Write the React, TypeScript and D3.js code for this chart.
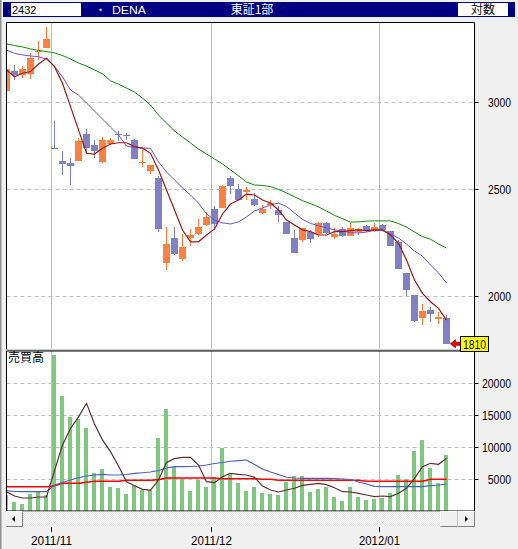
import React from 'react';
import * as d3 from 'd3';

// trading days shown (2011/10/24 .. 2012/01/17)
const dates = [
  '2011/10/24', '2011/10/25', '2011/10/26', '2011/10/27', '2011/10/28', '2011/10/31',
  '2011/11/01', '2011/11/02', '2011/11/04', '2011/11/07', '2011/11/08', '2011/11/09', '2011/11/10',
  '2011/11/11', '2011/11/14', '2011/11/15', '2011/11/16', '2011/11/17', '2011/11/18', '2011/11/21',
  '2011/11/22', '2011/11/24', '2011/11/25', '2011/11/28', '2011/11/29', '2011/11/30',
  '2011/12/01', '2011/12/02', '2011/12/05', '2011/12/06', '2011/12/07', '2011/12/08', '2011/12/09',
  '2011/12/12', '2011/12/13', '2011/12/14', '2011/12/15', '2011/12/16', '2011/12/19', '2011/12/20',
  '2011/12/21', '2011/12/22', '2011/12/26', '2011/12/27', '2011/12/28', '2011/12/29', '2011/12/30',
  '2012/01/04', '2012/01/05', '2012/01/06', '2012/01/10', '2012/01/11', '2012/01/12', '2012/01/13',
  '2012/01/16', '2012/01/17',
];

const open = [
  3072, 3201, 3177, 3183, 3330, 3358, 2726, 2652, 2641, 2652, 2804, 2744, 2646, 2749, 2806, 2800,
  2772, 2640, 2597, 2560, 2145, 2258, 2163, 2258, 2277, 2321, 2397, 2403, 2560, 2500, 2484, 2449,
  2380, 2418, 2392, 2335, 2258, 2250, 2286, 2276, 2330, 2263, 2300, 2267, 2286, 2316, 2291, 2321,
  2291, 2241, 2097, 2004, 1912, 1944, 1908, 1912,
];
const high = [
  3212, 3241, 3233, 3321, 3408, 3511, 2883, 2708, 2671, 2780, 2834, 2772, 2788, 2780, 2821, 2812,
  2778, 2714, 2630, 2569, 2310, 2310, 2276, 2300, 2349, 2383, 2412, 2524, 2570, 2530, 2510, 2481,
  2418, 2444, 2412, 2335, 2296, 2305, 2296, 2335, 2335, 2305, 2310, 2330, 2305, 2321, 2330, 2326,
  2291, 2250, 2097, 2004, 1968, 1956, 1936, 1924,
];
const low = [
  3072, 3141, 3156, 3148, 3274, 3358, 2722, 2574, 2521, 2652, 2704, 2669, 2639, 2744, 2763, 2772,
  2664, 2621, 2580, 2286, 2113, 2179, 2154, 2219, 2272, 2316, 2296, 2403, 2476, 2444, 2444, 2412,
  2375, 2397, 2335, 2276, 2188, 2241, 2232, 2263, 2277, 2254, 2263, 2267, 2272, 2286, 2286, 2291,
  2219, 2115, 2000, 1894, 1883, 1894, 1887, 1810,
];
const close = [
  3212, 3174, 3214, 3288, 3338, 3421, 2722, 2635, 2625, 2763, 2727, 2708, 2772, 2772, 2800, 2794,
  2664, 2646, 2630, 2300, 2228, 2185, 2214, 2272, 2310, 2359, 2326, 2518, 2517, 2444, 2495, 2418,
  2397, 2429, 2369, 2276, 2188, 2305, 2254, 2330, 2281, 2277, 2267, 2305, 2300, 2291, 2310, 2296,
  2219, 2115, 2025, 1898, 1940, 1928, 1916, 1810,
];

// price moving averages as drawn
const maShort = [
  3208, 3163, 3186, 3197, 3248, 3287, 3230, 3120, 2971, 2830, 2695, 2691, 2724, 2748, 2755, 2755,
  2733, 2724, 2695, 2603, 2496, 2394, 2296, 2240, 2240, 2272, 2301, 2374, 2424, 2444, 2475, 2470,
  2444, 2429, 2394, 2344, 2320, 2296, 2288, 2272, 2272, 2288, 2288, 2293, 2296, 2293, 2296, 2296,
  2272, 2233, 2156, 2068, 2011, 1976, 1949, 1902,
];
const maMid = [
  3344, 3321, 3310, 3303, 3298, 3281, 3233, 3161, 3076, 3044, 2994, 2944, 2895, 2847, 2800, 2736,
  2727, 2725, 2723, 2647, 2592, 2549, 2507, 2470, 2429, 2374, 2344, 2330, 2325, 2335, 2359, 2389,
  2404, 2419, 2429, 2411, 2379, 2347, 2328, 2316, 2306, 2296, 2291, 2283, 2282, 2286, 2294, 2294,
  2277, 2258, 2229, 2197, 2174, 2134, 2099, 2055,
];
const maLong = [
  3387, 3376, 3366, 3352, 3341, 3334, 3324, 3306, 3282, 3255, 3234, 3208, 3182, 3136, 3114, 3088,
  3063, 3025, 2981, 2919, 2871, 2824, 2788, 2754, 2719, 2691, 2663, 2636, 2603, 2571, 2538, 2522,
  2520, 2514, 2499, 2481, 2461, 2441, 2426, 2409, 2389, 2367, 2351, 2334, 2335, 2339, 2340, 2340,
  2340, 2327, 2310, 2286, 2264, 2252, 2230, 2211,
];

const volume = [
  2500, 1400, 1100, 2650, 3000, 2500, 24400, 18000, 14700, 14400, 13000, 5900, 6560, 3800, 3600, 2650,
  4100, 3280, 3280, 11400, 15900, 6900, 5000, 3100, 4850, 3750, 5300, 9840, 5900, 4375, 3100, 3750,
  2800, 2650, 2500, 4530, 5470, 5470, 2970, 3440, 3750, 2190, 1560, 3750, 2190, 1720, 1875, 2030,
  2800, 5625, 5000, 9375, 11090, 6720, 4375, 8750,
];
const volMaShort = [
  3016, 2340, 2030, 2030, 2190, 2190, 6300, 10300, 12900, 14700, 16830, 13600, 11100, 9270, 7030, 4580,
  3950, 3390, 3280, 4840, 7600, 8180, 8390, 8390, 7190, 4580, 4430, 5360, 5890, 5730, 5625, 5260,
  3900, 3280, 2970, 3280, 3550, 4010, 4170, 4330, 4110, 3640, 3020, 2970, 2760, 2500, 2240, 2340,
  2240, 2760, 3550, 5100, 6920, 7450, 7300, 8230,
];
const volMaMid = [
  3170, 3050, 3016, 3016, 3016, 3016, 4060, 4450, 4840, 5200, 5470, 5625, 5730, 5625, 5625, 5700,
  5890, 5980, 6090, 6330, 6720, 6920, 6920, 6950, 7030, 7190, 7420, 7580, 7770, 7860, 7970, 7270,
  6560, 6090, 5700, 5270, 5160, 5110, 5110, 5110, 5110, 5080, 5000, 4920, 4530, 4220, 3860, 3800,
  3800, 3800, 3800, 3800, 3800, 3980, 4060, 4220,
];
const volMaLong = [
  3800, 3800, 3800, 3800, 3800, 3800, 3950, 4330, 4330, 4330, 4480, 4640, 4640, 4640, 4640, 4800,
  4800, 4800, 4800, 4900, 5160, 5160, 5160, 5160, 5160, 5160, 5160, 5050, 5050, 5050, 5050, 5050,
  4950, 4950, 4800, 4800, 4800, 4800, 4800, 4800, 4800, 4800, 4800, 4800, 4800, 4640, 4640, 4640,
  4640, 4640, 4640, 4640, 4640, 4950, 4950, 4950,
];

const priceTicks = [2000, 2500, 3000];
const volTicks = [5000, 10000, 15000, 20000];

const UP = '#FF8040';
const DOWN = '#8080C4';
const GRID = '#C0C0C0';
const NUM_FONT = '"Liberation Sans", Arial, sans-serif';
const JP_FONT = '"Noto Sans CJK JP", sans-serif';

const App: React.FC = () => {
  const plotL = 6.5, plotR = 474.5;
  const priceTop = 22.5, priceBottom = 349.5;
  const volTop = 351, volBottom = 511;

  const x = d3.scaleLinear().domain([0, dates.length - 1]).range([6.5, 446.5]);
  const yP = d3.scaleLog().domain([2000, 3000]).range([296, 102]);
  const yV = d3.scaleLinear().domain([0, 20000]).range([511, 383]);

  const priceLine = (arr: number[]) =>
    d3.line<number>().x((_, i) => x(i)).y(d => yP(d))(arr) || '';
  const volLine = (arr: number[]) =>
    d3.line<number>().x((_, i) => x(i)).y(d => yV(d))(arr) || '';

  // month boundaries
  const months: { x: number; label: string }[] = [];
  dates.forEach((d, i) => {
    if (i > 0 && d.slice(0, 7) !== dates[i - 1].slice(0, 7)) {
      months.push({ x: Math.round((x(i - 1) + x(i)) / 2) + 0.5, label: d.slice(0, 7) });
    }
  });

  const last = close[close.length - 1];
  const lastY = yP(last);

  return (
    <svg width={518} height={549} style={{ position: 'absolute', left: 0, top: 0 }}>
      <defs>
        <clipPath id="pclip"><rect x={plotL} y={priceTop} width={plotR - plotL} height={priceBottom - priceTop} /></clipPath>
        <clipPath id="vclip"><rect x={plotL} y={volTop} width={plotR - plotL} height={volBottom - volTop} /></clipPath>
        <pattern id="dots" width={2} height={2} patternUnits="userSpaceOnUse">
          <rect width={2} height={2} fill="#FFFFFF" />
          <rect width={1} height={1} fill="#E4E4E4" />
          <rect x={1} y={1} width={1} height={1} fill="#E4E4E4" />
        </pattern>
      </defs>
      <rect width={518} height={549} fill="#F0F0F0" />
      <rect x={0} y={0} width={1.5} height={549} fill="#909090" />

      {/* header */}
      <rect x={3} y={2} width={512} height={15} fill="#000080" />
      <rect x={11} y={3} width={70} height={13} fill="#FFFFFF" />
      <rect x={458} y={3} width={50} height={13} fill="#FFFFFF" />
      <text x={12} y={14} fontFamily={NUM_FONT} fontSize={11} fill="#000">2432</text>
      <text x={95} y={14} fontFamily={JP_FONT} fontSize={11} fill="#FFF">・</text>
      <text x={112} y={14} fontFamily={NUM_FONT} fontSize={11} fill="#FFF" textLength={34} lengthAdjust="spacingAndGlyphs">DENA</text>
      <text x={252} y={14} fontFamily={JP_FONT} fontSize={12} fill="#FFF" textAnchor="middle">東証1部</text>
      <text x={483} y={14} fontFamily={JP_FONT} fontSize={12} fill="#000" textAnchor="middle">対数</text>

      {/* price panel */}
      <rect x={plotL} y={priceTop} width={plotR - plotL} height={priceBottom - priceTop} fill="#FFFFFF" />
      <rect x={plotL} y={volTop} width={plotR - plotL} height={volBottom - volTop} fill="#FFFFFF" />

      {priceTicks.map(t => (
        <line key={t} x1={plotL} x2={plotR} y1={Math.round(yP(t)) + 0.5} y2={Math.round(yP(t)) + 0.5}
          stroke={GRID} strokeDasharray="4,3" />
      ))}
      {volTicks.map(t => (
        <line key={t} x1={plotL} x2={plotR} y1={Math.round(yV(t)) + 0.5} y2={Math.round(yV(t)) + 0.5}
          stroke={GRID} strokeDasharray="4,3" />
      ))}
      {months.map(m => (
        <g key={m.label}>
          <line x1={m.x} x2={m.x} y1={priceTop} y2={priceBottom - 1} stroke={GRID} />
          <line x1={m.x} x2={m.x} y1={volTop} y2={volBottom} stroke={GRID} />
        </g>
      ))}

      <g clipPath="url(#pclip)">
        {dates.map((d, i) => {
          const c = x(i);
          const up = close[i] >= open[i];
          const col = up ? UP : DOWN;
          const top = yP(Math.max(open[i], close[i]));
          const bot = yP(Math.min(open[i], close[i]));
          return (
            <g key={d} shapeRendering="crispEdges">
              <rect x={c - 0.5} y={yP(high[i])} width={1} height={Math.max(1, yP(low[i]) - yP(high[i]))} fill={col} />
              <rect x={c - 3.5} y={top} width={7} height={Math.max(1, bot - top)} fill={col} />
            </g>
          );
        })}
        <path d={priceLine(maLong)} fill="none" stroke="#108A10" strokeWidth={1} />
        <path d={priceLine(maMid)} fill="none" stroke="#6A50D8" strokeWidth={1} />
        <path d={priceLine(maShort)} fill="none" stroke="#A01818" strokeWidth={1.2} />
      </g>

      <g clipPath="url(#vclip)">
        {volume.map((v, i) => (
          <rect key={i} x={x(i) - 2.5} y={yV(v)} width={4} height={yV(0) - yV(v)} fill="#80C880" shapeRendering="crispEdges" />
        ))}
        <path d={volLine(volMaLong)} fill="none" stroke="#FF0000" strokeWidth={1.6} />
        <path d={volLine(volMaMid)} fill="none" stroke="#4A60C0" strokeWidth={1.2} />
        <path d={volLine(volMaShort)} fill="none" stroke="#603030" strokeWidth={1.2} />
      </g>
      <text x={8} y={362} fontFamily={JP_FONT} fontSize={12} fill="#000">売買高</text>

      {/* frames */}
      <line x1={plotL} x2={plotR} y1={priceTop} y2={priceTop} stroke="#000" />
      <line x1={plotL} x2={plotL} y1={priceTop} y2={priceBottom} stroke="#000" />
      <line x1={plotR} x2={plotR} y1={priceTop} y2={volBottom} stroke="#000" />
      <line x1={plotL} x2={plotR} y1={priceBottom + 0.5} y2={priceBottom + 0.5} stroke="#A0A0A0" />
      <line x1={plotL} x2={plotR} y1={volTop} y2={volTop} stroke="#000" />
      <line x1={plotL} x2={plotL} y1={volTop} y2={volBottom} stroke="#000" />
      <line x1={plotL} x2={plotR} y1={volBottom} y2={volBottom} stroke="#000" />

      {/* right axes */}
      {priceTicks.map(t => (
        <g key={t}>
          <line x1={plotR} x2={plotR + 4} y1={Math.round(yP(t)) + 0.5} y2={Math.round(yP(t)) + 0.5} stroke="#000" />
          <text x={511} y={yP(t) + 4.5} textAnchor="end" fontFamily={NUM_FONT} fontSize={12}
            textLength={23} lengthAdjust="spacingAndGlyphs">{t}</text>
        </g>
      ))}
      {volTicks.map(t => (
        <g key={t}>
          <line x1={plotR} x2={plotR + 4} y1={Math.round(yV(t)) + 0.5} y2={Math.round(yV(t)) + 0.5} stroke="#000" />
          <text x={511} y={yV(t) + 4.5} textAnchor="end" fontFamily={NUM_FONT} fontSize={12}
            textLength={String(t).length * 5.8} lengthAdjust="spacingAndGlyphs">{t}</text>
        </g>
      ))}

      {/* last price marker */}
      <path d={`M${plotR - 24},${lastY} l5,-4 v2.5 h4.5 v3 h-4.5 v2.5 z`} fill="#FF0000" stroke="#800000" strokeWidth={0.8} />
      <rect x={460.5} y={336.5} width={28} height={15} fill="#FFFF00" stroke="#000" />
      <text x={474.5} y={348.5} textAnchor="middle" fontFamily={NUM_FONT} fontSize={13}
        textLength={23} lengthAdjust="spacingAndGlyphs">{last}</text>

      {/* scrollbar */}
      <rect x={6.5} y={511.5} width={468} height={15} fill="url(#dots)" />
      {[{ x0: 6.5, w: 16 }, { x0: 440.5, w: 17 }, { x0: 458, w: 16.5 }].map((b, i) => (
        <g key={i}>
          <rect x={b.x0} y={511.5} width={b.w} height={15} fill="#F0F0F0" />
          <path d={`M${b.x0},${526.5} V511.5 H${b.x0 + b.w}`} fill="none" stroke="#FFFFFF" />
          <path d={`M${b.x0},${526.5} H${b.x0 + b.w} V511.5`} fill="none" stroke="#808080" />
        </g>
      ))}
      <path d="M12,519 l3,-3 v6 z" fill="#000" />
      <path d="M468,519 l-3,-3 v6 z" fill="#000" />

      {/* date axis */}
      {months.map(m => (
        <g key={m.label}>
          <line x1={m.x} x2={m.x} y1={527} y2={532} stroke="#000" />
          <text x={m.x} y={545} textAnchor="middle" fontFamily={NUM_FONT} fontSize={12}
            textLength={41} lengthAdjust="spacingAndGlyphs">{m.label}</text>
        </g>
      ))}
    </svg>
  );
};

export default App;
